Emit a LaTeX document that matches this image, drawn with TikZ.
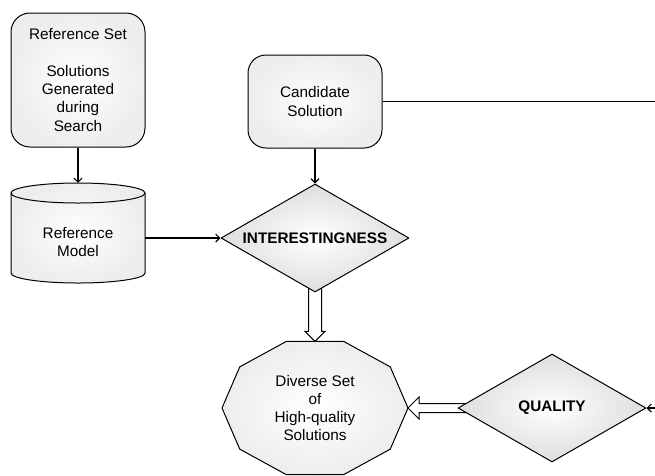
\documentclass[tikz,border=0pt]{standalone}
\usepackage{fontspec}
\setmainfont{Liberation Sans}
\usetikzlibrary{shapes.geometric,arrows.meta,calc,backgrounds}
\begin{document}
\begin{tikzpicture}[x=1pt,y=1pt, line join=round,
  every node/.style={font=\fontsize{15.3}{18.3}\selectfont, align=center},
  box/.style={draw, line width=1pt, rounded corners=19pt, minimum width=134pt, inner sep=0pt,
    shading=radial, inner color=white, outer color=gray!14},
  dmd/.style={diamond, aspect=1.74, draw, line width=1pt, minimum width=188pt, minimum height=108pt, inner sep=0pt,
    shading=radial, inner color=white, outer color=gray!26, font=\fontsize{15.3}{18.3}\selectfont\bfseries},
  conn/.style={line width=1.1pt, -{Straight Barb[length=4pt,width=8pt]}},
  plain/.style={line width=1.1pt},
  blk/.style={draw, line width=1pt, fill=white},
  solidshape/.style={draw, line width=1pt, shading=radial, inner color=white, outer color=gray!14},
  ghost/.style={rectangle, inner sep=0pt}
]
\useasboundingbox (0,0) rectangle (655,-475);

% Reference set
\node[box, minimum height=134pt] (refset) at (78,-80)
  {Reference Set\\[18.3pt]Solutions\\Generated\\during\\Search};

% Reference model (cylinder)
\path[solidshape] (11,-193) -- (11,-273)
  arc[start angle=180, end angle=360, x radius=67pt, y radius=10pt]
  -- (145,-193)
  arc[start angle=0, end angle=180, x radius=67pt, y radius=10pt] -- cycle;
\draw[line width=1pt] (11,-193) arc[start angle=180, end angle=360, x radius=67pt, y radius=10pt];
\node[ghost, minimum width=134pt, minimum height=100pt] (refmodel) at (78,-233) {};
\node (refmodeltxt) at (78,-242) {Reference\\Model};

% Candidate solution
\node[box, minimum height=93pt, rounded corners=18pt] (cand) at (315,-101.5) {Candidate\\Solution};

% Decision diamonds
\node[dmd] (intr) at (315,-238) {INTERESTINGNESS};
\node[dmd] (qual) at (552,-408) {QUALITY};

% Diverse set (decagon)
\coordinate (dc) at (315,-408);
\draw[solidshape] ($(dc)+(0:93pt and 70pt)$)
  \foreach \a in {36,72,...,324}{ -- ($(dc)+(\a:93pt and 70pt)$)} -- cycle;
\node (divset) at (dc) {Diverse Set\\of\\High-quality\\Solutions};
\coordinate (divtop) at ($(dc)+(0,66.6)$);
\coordinate (divright) at ($(dc)+(93,0)$);

% free ends at the right border
\coordinate (edgeR) at (655,-101.5);
\coordinate (edgeQ) at (655,-408);

% connectors
\draw[conn] (refset.south) -- (refmodel.north);
\draw[conn] (refmodel.east |- intr.west) -- (intr.west);
\draw[conn] (cand.south) -- (intr.north);
\draw[plain] (cand.east) -- (edgeR);
\draw[conn] (edgeQ) -- (qual.east);

% block arrows
\begin{scope}[on background layer]
\draw[blk] ([xshift=-6.5pt,yshift=10pt]intr.south) -- ([xshift=-6.5pt,yshift=10pt]divtop)
  -- ([xshift=-10pt,yshift=10pt]divtop) -- (divtop) -- ([xshift=10pt,yshift=10pt]divtop)
  -- ([xshift=6.5pt,yshift=10pt]divtop) -- ([xshift=6.5pt,yshift=10pt]intr.south) -- cycle;
\draw[blk] ([xshift=10pt,yshift=4.5pt]qual.west) -- ([xshift=11pt,yshift=4.5pt]divright)
  -- ([xshift=11pt,yshift=11pt]divright) -- (divright) -- ([xshift=11pt,yshift=-11pt]divright)
  -- ([xshift=11pt,yshift=-4.5pt]divright) -- ([xshift=10pt,yshift=-4.5pt]qual.west) -- cycle;
\end{scope}
\end{tikzpicture}
\end{document}
